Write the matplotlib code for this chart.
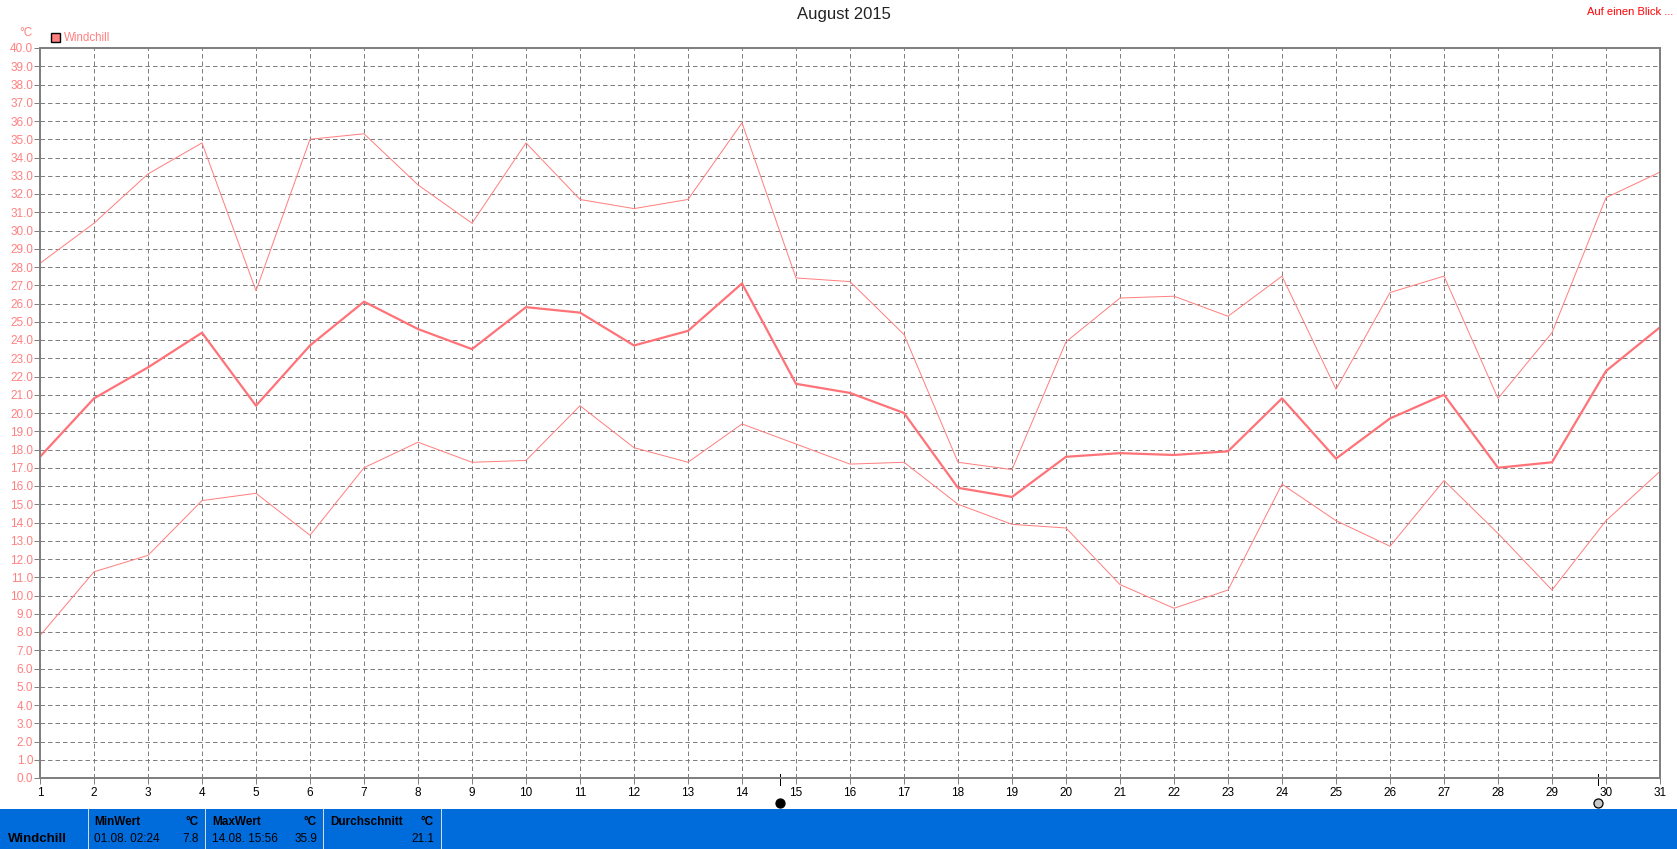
import matplotlib
matplotlib.use('Agg')
import matplotlib.pyplot as plt
from matplotlib.patches import Rectangle

plt.rcParams['font.family'] = ['Liberation Sans', 'DejaVu Sans']

WIDTH, HEIGHT = 1677, 849
PINK = '#ff8080'
LINE = '#ff7278'
GRAY = '#808080'
BLUE = '#006cdc'

days = list(range(1, 32))
temp_max = [28.2, 30.4, 33.1, 34.8, 26.7, 35.0, 35.3, 32.5, 30.4, 34.8, 31.7, 31.2, 31.7, 35.9, 27.4, 27.2,
            24.3, 17.3, 16.9, 23.9, 26.3, 26.4, 25.3, 27.5, 21.3, 26.6, 27.5, 20.8, 24.4, 31.8, 33.2]
temp_mean = [17.6, 20.8, 22.5, 24.4, 20.4, 23.7, 26.1, 24.6, 23.5, 25.8, 25.5, 23.7, 24.5, 27.1, 21.6, 21.1,
             20.0, 15.9, 15.4, 17.6, 17.8, 17.7, 17.9, 20.8, 17.5, 19.7, 21.0, 17.0, 17.3, 22.3, 24.7]
temp_min = [7.8, 11.3, 12.2, 15.2, 15.6, 13.3, 17.0, 18.4, 17.3, 17.4, 20.4, 18.1, 17.3, 19.4, 18.3, 17.2,
            17.3, 15.0, 13.9, 13.7, 10.6, 9.3, 10.3, 16.1, 14.1, 12.7, 16.3, 13.4, 10.3, 14.1, 16.8]
y_ticks = list(range(0, 41))

new_moon_day = 14.7
full_moon_day = 29.85

box_titles = ['MinWert', 'MaxWert', 'Durchschnitt']
box_dates = ['01.08. 02:24', '14.08. 15:56', '']
box_values = ['7.8', '35.9', '21.1']


def px(x, y):
    return x / WIDTH, 1 - y / HEIGHT


fig = plt.figure(figsize=(WIDTH / 100, HEIGHT / 100), dpi=100, facecolor='white')
left, right, top, bottom = 40, 1660, 48, 778
ax = fig.add_axes([left / WIDTH, 1 - bottom / HEIGHT, (right - left) / WIDTH, (bottom - top) / HEIGHT])

# dashed grid first, then the three curves on top
ax.set_axisbelow(True)
ax.grid(True, color=GRAY, linewidth=0.72, linestyle=(0, (4.5, 3)))
ax.plot(days, temp_max, color=PINK, linewidth=0.72)
ax.plot(days, temp_min, color=PINK, linewidth=0.72)
ax.plot(days, temp_mean, color=LINE, linewidth=1.6)

ax.set_xlim(1, 31)
ax.set_ylim(0, 40)
ax.set_xticks(days)
ax.set_yticks(y_ticks)
ax.set_yticklabels([f'{t:.1f}' for t in y_ticks], color=PINK, fontsize=8.5)
ax.set_xticklabels([str(d) for d in days], color='black', fontsize=8.5)
ax.tick_params(axis='x', length=4, width=0.72, color=GRAY, pad=2.5)
ax.tick_params(axis='y', length=4, width=0.72, color=GRAY, pad=1)
for spine in ax.spines.values():
    spine.set_color(GRAY)
    spine.set_linewidth(1.44)

# moon phase ticks and symbols under the axis
xform = ax.get_xaxis_transform()
span = bottom - top
for day, face in [(new_moon_day, 'black'), (full_moon_day, '#c8c8c8')]:
    ax.plot([day, day], [(bottom - 774) / span, (bottom - 785) / span], color='black', linewidth=0.72,
            transform=xform, clip_on=False)
    ax.plot([day], [(bottom - 803) / span], marker='o', markersize=6.5, markerfacecolor=face,
            markeredgecolor='black', markeredgewidth=0.9, transform=xform, clip_on=False)

# header texts
fig.text(*px(844, 15), 'August 2015', ha='center', va='center', fontsize=12, color='#222222')
fig.text(*px(1673, 12), 'Auf einen Blick ...', ha='right', va='center', fontsize=8, color='#ff0000')
fig.text(*px(26, 33), '°C', ha='center', va='center', fontsize=8.5, color=PINK)
fig.add_artist(Rectangle(px(51, 42), 9 / WIDTH, 9 / HEIGHT, transform=fig.transFigure,
                         facecolor=PINK, edgecolor='black', linewidth=1))
fig.text(*px(64, 38), 'Windchill', ha='left', va='center', fontsize=8.3, color=PINK)

# blue info band
fig.add_artist(Rectangle((0, 0), 1, 40 / HEIGHT, transform=fig.transFigure, facecolor=BLUE, edgecolor='none'))
for sep in [88, 205, 323, 441]:
    fig.add_artist(Rectangle(px(sep - 0.5, 849), 1.5 / WIDTH, 40 / HEIGHT, transform=fig.transFigure,
                             facecolor='#d8d8d8', edgecolor='none'))
fig.text(*px(8, 839), 'Windchill', ha='left', va='center', fontsize=9.5, fontweight='bold', color='black')
box_left = [94, 212, 330]
box_right = [199, 317, 434]
for i in range(3):
    fig.text(*px(box_left[i], 822), box_titles[i], ha='left', va='center', fontsize=8.5, fontweight='bold', color='black')
    fig.text(*px(box_right[i], 822), '°C', ha='right', va='center', fontsize=8.5, fontweight='bold', color='black')
    fig.text(*px(box_left[i], 839), box_dates[i], ha='left', va='center', fontsize=8.5, color='black')
    fig.text(*px(box_right[i], 839), box_values[i], ha='right', va='center', fontsize=8.5, color='black')

fig.savefig('out.png', dpi=100, facecolor='white')
